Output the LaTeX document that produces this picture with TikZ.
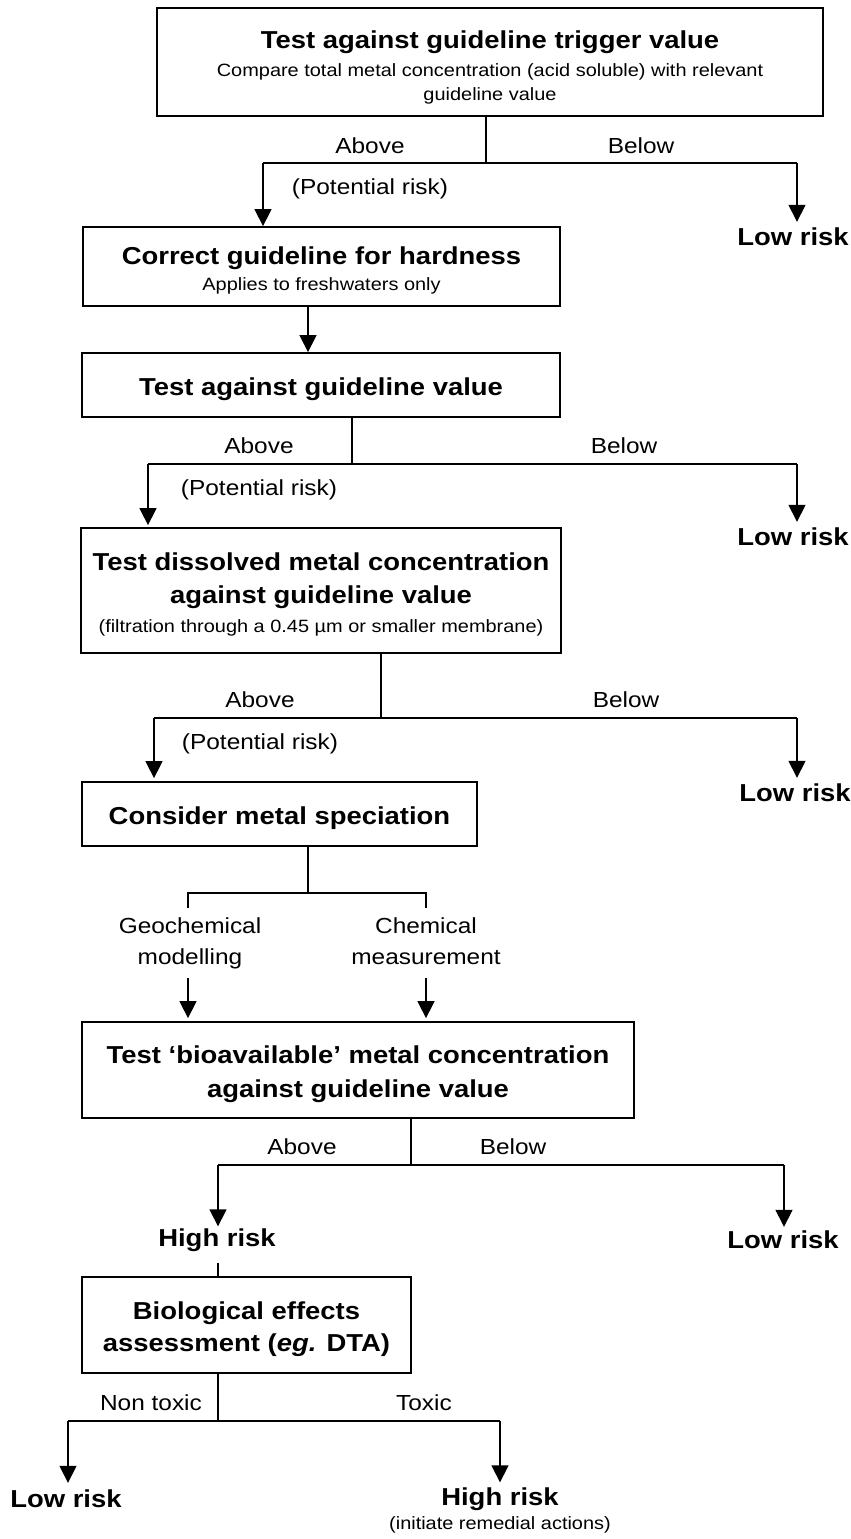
\documentclass[tikz,border=0pt]{standalone}
\usepackage{fontspec}
\setmainfont{Liberation Sans}[FakeStretch=1.12]
\usetikzlibrary{arrows.meta, positioning}

\newcommand{\hdfont}{\fontsize{24.5}{33}\selectfont\bfseries}
\newcommand{\lblfont}{\fontsize{21.8}{31}\selectfont}
\newcommand{\smfont}{\fontsize{17.8}{24}\selectfont\mdseries}
\newcommand{\tup}[1][26pt]{\rule{0pt}{#1}}

\begin{document}
\begin{tikzpicture}[x=1pt, y=-1pt,
  box/.style={draw, line width=1.8pt, inner sep=0pt, align=center, font=\hdfont},
  lbl/.style={inner sep=0pt, align=center, font=\lblfont},
  risk/.style={inner sep=0pt, align=center, font=\hdfont},
  ln/.style={line width=1.5pt},
  arr/.style={-{Triangle[length=17pt, width=17pt]}, line width=1.5pt}
]
\useasboundingbox (0,0) rectangle (851,1539);

% boxes
\node[box, minimum width=666pt, minimum height=108pt] (trig) at (490,62)
  {\tup[28pt]Test against guideline trigger value\\[-5pt]
   {\smfont Compare total metal concentration (acid soluble) with relevant}\\[-9pt]
   {\smfont guideline value}};
\node[box, minimum width=477pt, minimum height=79pt] (hard) at (321.5,266.5)
  {\tup Correct guideline for hardness\\[-7pt]{\smfont Applies to freshwaters only}};
\node[box, minimum width=478pt, minimum height=64pt] (val) at (321,385)
  {\tup Test against guideline value};
\node[box, minimum width=480pt, minimum height=125pt] (diss) at (321,590.5)
  {\tup Test dissolved metal concentration\\against guideline value\\[-4.5pt]
   {\smfont (filtration through a 0.45 µm or smaller membrane)}};
\node[box, minimum width=395pt, minimum height=64pt] (spec) at (279.5,814)
  {\tup Consider metal speciation};
\node[box, minimum width=552pt, minimum height=96pt] (bio) at (358,1070)
  {\tup Test ‘bioavailable’ metal concentration\\[1pt]against guideline value};
\node[box, minimum width=329pt, minimum height=96pt] (eff) at (246.5,1325)
  {\tup Biological effects\\[-1pt]assessment (\textit{eg.} DTA)};

% labels
\node[lbl] (ab1) at (370,146) {Above};
\node[lbl] (be1) at (641,146) {Below};
\node[lbl] (pr1) at (370,189) {(Potential risk)};
\node[risk] (lo1) at (793,237) {Low risk};

\node[lbl] (ab2) at (259,446) {Above};
\node[lbl] (be2) at (624,446) {Below};
\node[lbl] (pr2) at (259,490) {(Potential risk)};
\node[risk] (lo2) at (793,537) {Low risk};

\node[lbl] (ab3) at (260,700) {Above};
\node[lbl] (be3) at (626,700) {Below};
\node[lbl] (pr3) at (260,744) {(Potential risk)};
\node[risk] (lo3) at (795,793) {Low risk};

\node[lbl, text depth=5pt] (geo) at (190,944) {Geochemical\\modelling};
\node[lbl, text depth=5pt] (chem) at (426,944) {Chemical\\measurement};

\node[lbl] (ab4) at (302,1147) {Above};
\node[lbl] (be4) at (513,1147) {Below};
\node[risk] (hi1) at (217,1240) {High risk};
\node[risk] (lo4) at (783,1240) {Low risk};

\node[lbl] (nt) at (151,1403) {Non toxic};
\node[lbl] (tx) at (424,1403) {Toxic};
\node[risk] (lo5) at (66,1499) {Low risk};
\node[risk] (hi2) at (500,1499) {High risk};
\node[inner sep=0pt, font=\smfont, below=6pt of hi2] (rem) {(initiate remedial actions)};

% junctions
\coordinate (j1) at (486,163);  \coordinate (j1l) at (263,163);  \coordinate (j1r) at (797,163);
\coordinate (j2) at (352,464);  \coordinate (j2l) at (148,464);  \coordinate (j2r) at (797,464);
\coordinate (j3) at (381,718);  \coordinate (j3l) at (154,718);  \coordinate (j3r) at (797,718);
\coordinate (j4) at (308,893);  \coordinate (j4l) at (188,893);  \coordinate (j4r) at (426,893);
\coordinate (j5) at (411,1165); \coordinate (j5l) at (218,1165); \coordinate (j5r) at (784,1165);
\coordinate (j6) at (218,1421); \coordinate (j6l) at (68,1421);  \coordinate (j6r) at (500,1421);

% connectors
\draw[ln] (trig.south -| j1) -- (j1);
\draw[ln] (j1l) -- (j1r);
\draw[arr] (j1l) -- (j1l |- hard.north);
\draw[arr, shorten >=6pt] (j1r) -- (j1r |- lo1.north);
\draw[arr] ([xshift=-13.5pt]hard.south) -- ([xshift=-13pt]val.north);

\draw[ln] (val.south -| j2) -- (j2);
\draw[ln] (j2l) -- (j2r);
\draw[arr, shorten >=2pt] (j2l) -- (j2l |- diss.north);
\draw[arr, shorten >=6pt] (j2r) -- (j2r |- lo2.north);

\draw[ln] (diss.south -| j3) -- (j3);
\draw[ln] (j3l) -- (j3r);
\draw[arr, shorten >=3pt] (j3l) -- (j3l |- spec.north);
\draw[arr, shorten >=6pt] (j3r) -- (j3r |- lo3.north);

\draw[ln] (spec.south -| j4) -- (j4);
\draw[ln] ([yshift=-15pt]j4l) -- (j4l) -- (j4r) -- ([yshift=-15pt]j4r);
\draw[arr, shorten <=8pt, shorten >=3pt] (j4l |- geo.south) -- (j4l |- bio.north);
\draw[arr, shorten <=8pt, shorten >=3pt] (j4r |- chem.south) -- (j4r |- bio.north);

\draw[ln] (bio.south -| j5) -- (j5);
\draw[ln] (j5l) -- (j5r);
\draw[arr, shorten >=2pt] (j5l) -- (j5l |- hi1.north);
\draw[arr, shorten >=4pt] (j5r) -- (j5r |- lo4.north);
\draw[ln, shorten <=11pt] (hi1.south -| j5l) -- (eff.north -| j5l);

\draw[ln] (eff.south -| j6) -- (j6);
\draw[ln] (j6l) -- (j6r);
\draw[arr, shorten >=7pt] (j6l) -- (j6l |- lo5.north);
\draw[arr, shorten >=5pt] (j6r) -- (j6r |- hi2.north);
\end{tikzpicture}
\end{document}
